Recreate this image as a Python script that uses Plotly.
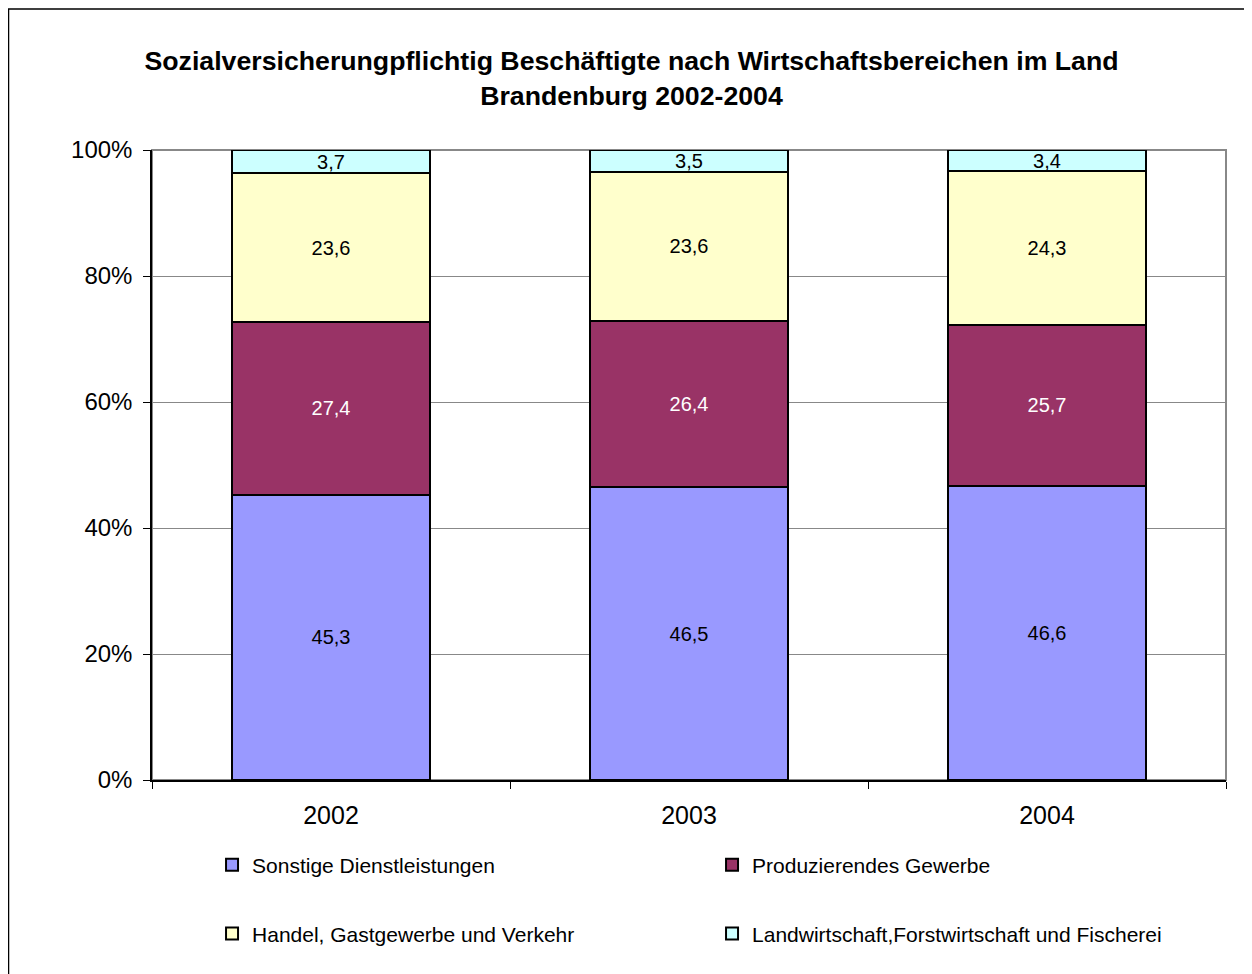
import plotly.graph_objects as go

# Data
years = ["2002", "2003", "2004"]
sonstige = [45.3, 46.5, 46.6]
produzierend = [27.4, 26.4, 25.7]
handel = [23.6, 23.6, 24.3]
landwirtschaft = [3.7, 3.5, 3.4]

series = [
    ("Sonstige Dienstleistungen", sonstige, "#9999FF", "black", "legend"),
    ("Produzierendes Gewerbe", produzierend, "#993366", "white", "legend"),
    ("Handel, Gastgewerbe und Verkehr", handel, "#FFFFCC", "black", "legend2"),
    ("Landwirtschaft,Forstwirtschaft und Fischerei", landwirtschaft, "#CCFFFF", "black", "legend2"),
]

FONT = "Liberation Sans, Arial, sans-serif"

fig = go.Figure()
for name, vals, color, txtcolor, leg in series:
    fig.add_trace(
        go.Bar(
            x=years,
            y=vals,
            name=name,
            marker=dict(color=color, line=dict(color="black", width=2)),
            texttemplate="%{y:.1f}",
            textposition="inside",
            insidetextanchor="middle",
            textfont=dict(color=txtcolor, size=20, family=FONT),
            legend=leg,
        )
    )

# plot area outline (grey top/right) and outer frame
fig.add_shape(type="rect", xref="paper", yref="paper", x0=0, x1=1, y0=0, y1=1,
              line=dict(color="#888888", width=2), layer="below")
fig.add_shape(type="rect", xref="paper", yref="paper",
              x0=-0.1336, x1=1.0298, y0=-0.3143, y1=1.2238,
              line=dict(color="black", width=1.5))

legend_common = dict(
    orientation="h",
    xref="paper", yref="paper",
    xanchor="left", yanchor="middle",
    entrywidth=455, entrywidthmode="pixels",
    font=dict(size=21, family=FONT, color="black"),
    itemclick=False, itemdoubleclick=False,
    bgcolor="rgba(0,0,0,0)",
    traceorder="normal",
    itemwidth=30,
)

fig.update_layout(
    width=1244,
    height=966,
    margin=dict(l=144, r=26, t=142, b=194),
    paper_bgcolor="white",
    plot_bgcolor="white",
    barmode="stack",
    bargap=0.447,
    separators=",.",
    uniformtext=dict(minsize=20, mode="show"),
    font=dict(family=FONT, color="black"),
    title=dict(
        text="<b>Sozialversicherungpflichtig Beschäftigte nach Wirtschaftsbereichen im Land<br>Brandenburg 2002-2004</b>",
        x=0.5012, xanchor="center", y=0.9358, yanchor="middle",
        font=dict(size=26.7, family=FONT, color="black"),
    ),
    xaxis=dict(
        showline=True, linecolor="black", linewidth=1.5,
        ticks="outside", tickson="boundaries", ticklen=7, tickcolor="black",
        tickfont=dict(size=25, family=FONT, color="black"),
        ticklabelstandoff=12,
        showgrid=False,
    ),
    yaxis=dict(
        range=[0, 100], dtick=20, ticksuffix="%",
        showline=True, linecolor="black", linewidth=1.5,
        ticks="outside", ticklen=7, tickcolor="black",
        tickfont=dict(size=24, family=FONT, color="black"),
        ticklabelstandoff=6,
        showgrid=True, gridcolor="#888888", gridwidth=1,
        zeroline=False,
    ),
    legend=dict(x=0.0559, y=-0.1349, **legend_common),
    legend2=dict(x=0.0559, y=-0.2444, **legend_common),
)

fig.write_html("out.html")
